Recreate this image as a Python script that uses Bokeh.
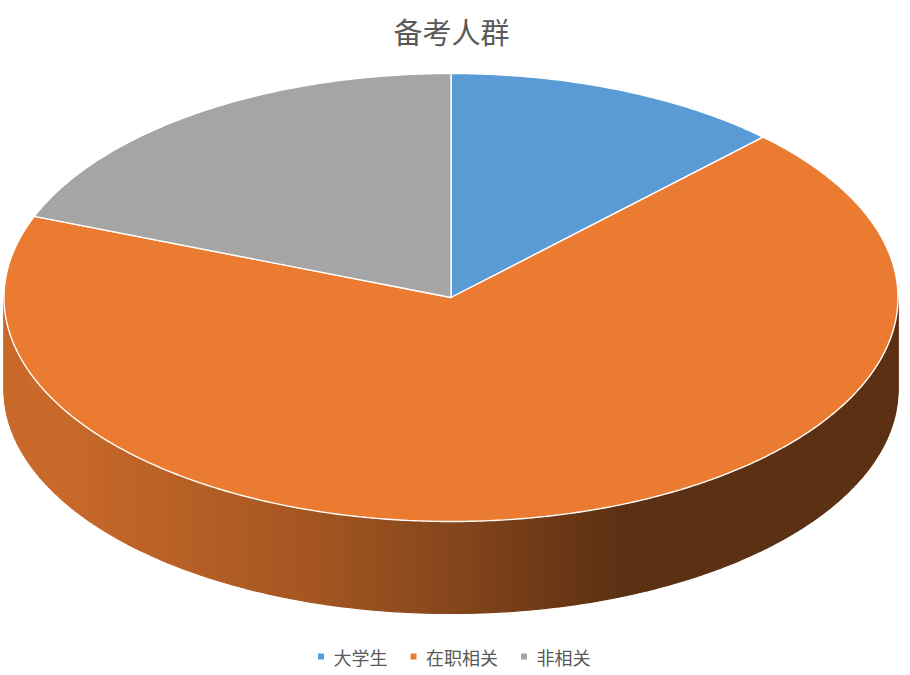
import numpy as np
from bokeh.plotting import figure
from bokeh.models import Range1d, ColumnDataSource
from bokeh.core.properties import value
from bokeh.embed import file_html
from bokeh.resources import INLINE

# ---- data ----
title_text = "备考人群"
categories = ["大学生", "在职相关", "非相关"]
shares = [12.3, 68.6, 19.1]
colors = ["#5B9BD5", "#EA7B31", "#A5A5A5"]

# ---- layout / style ----
W, H = 904, 670
FONT = "Noto Sans CJK SC"
cx, cy, a, b, depth = 450.5, 297.0, 447.0, 224.0, 92.0

p = figure(width=W, height=H, x_range=Range1d(0, W), y_range=Range1d(H, 0),
           output_backend="svg", toolbar_location=None, min_border=0)
p.axis.visible = False
p.grid.visible = False
p.outline_line_color = None
p.background_fill_color = "white"
p.border_fill_color = "white"

total = float(sum(shares))
bounds = np.concatenate([[0.0], np.cumsum(shares)]) / total * 360.0


def pt(theta_deg, dy=0.0):
    t = np.radians(theta_deg)
    return cx + a * np.sin(t), cy - b * np.cos(t) + dy


def hex_rgb(h):
    h = h.lstrip("#")
    return [int(h[i:i + 2], 16) for i in (0, 2, 4)]


def shade(h, f):
    r, g, bb = hex_rgb(h)
    return "#%02x%02x%02x" % (int(r * f), int(g * f), int(bb * f))


shade_x = [60, 170, 300, 450, 560, 620]
shade_f = [0.86, 0.79, 0.71, 0.575, 0.455, 0.395]

# ---- side walls (front half only) ----
sx, sy, sc = [], [], []
for i in range(len(shares)):
    lo = max(bounds[i], 90.0)
    hi = min(bounds[i + 1], 270.0)
    if hi <= lo:
        continue
    n = max(2, int((hi - lo) / 1.0))
    ts = np.linspace(lo, hi, n + 1)
    for t0, t1 in zip(ts[:-1], ts[1:]):
        x0, y0 = pt(t0)
        x1, y1 = pt(t1)
        sx.append([x0, x1, x1, x0])
        sy.append([y0, y1, y1 + depth, y0 + depth])
        f = float(np.interp((x0 + x1) / 2, shade_x, shade_f))
        sc.append(shade(colors[i], f))
p.patches(xs="xs", ys="ys", fill_color="c", line_color="c", line_width=1.2,
          source=ColumnDataSource(dict(xs=sx, ys=sy, c=sc)))

# ---- top face ----
tx, ty = [], []
for i in range(len(shares)):
    ts = np.linspace(bounds[i], bounds[i + 1], max(3, int(bounds[i + 1] - bounds[i]) * 2))
    xs, ys = pt(ts)
    tx.append([cx] + list(xs))
    ty.append([cy] + list(ys))
p.patches(xs="xs", ys="ys", fill_color="c", line_color="white", line_width=1.4,
          line_join="round",
          source=ColumnDataSource(dict(xs=tx, ys=ty, c=colors)))

# ---- title ----
p.text(x=[451], y=[30], text=[title_text], text_font=value(FONT), text_font_size="29px",
       text_color="#595959", text_align="center", text_baseline="middle")

# ---- legend ----
char_w = 18.0
lx, tx_pos = [], []
x = 320.5
for c in categories:
    lx.append(x)
    tx_pos.append(x + 12.5)
    x = x + 12.5 + len(c) * char_w + 26
ly = 656
p.scatter(x=lx, y=[ly] * len(lx), marker="square", size=6, fill_color=colors, line_color=None)
p.text(x=tx_pos, y=[ly] * len(lx), text=categories, text_font=value(FONT), text_font_size="18px",
       text_color="#595959", text_align="left", text_baseline="middle")

open("out.html", "w").write(file_html(p, INLINE))
